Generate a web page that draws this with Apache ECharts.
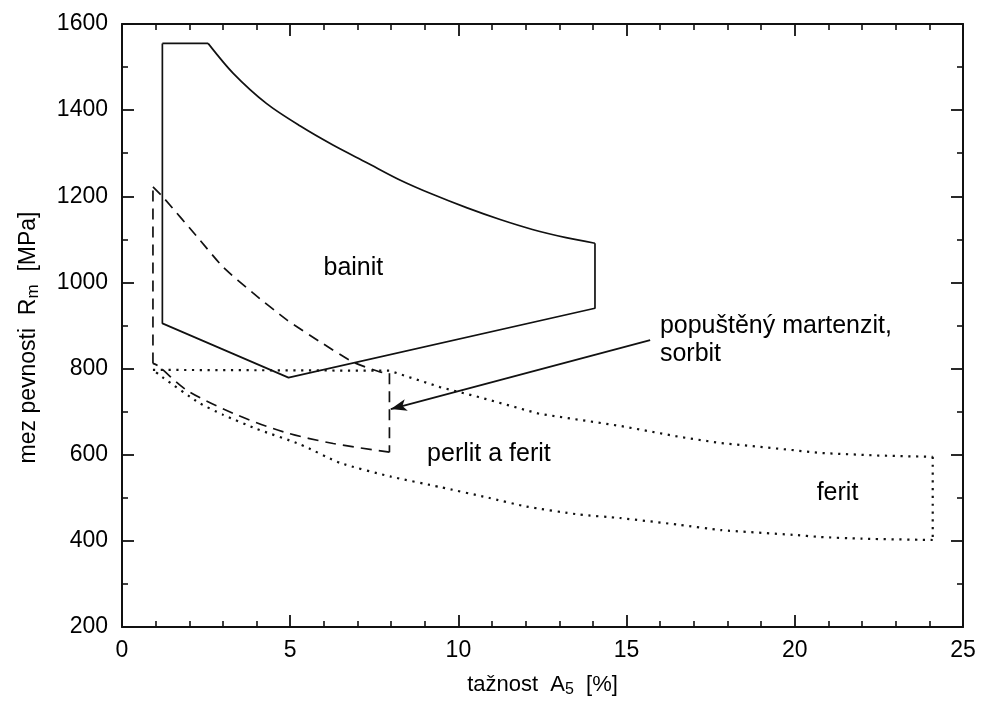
<!DOCTYPE html>
<html>
<head>
<meta charset="utf-8">
<script src="https://cdn.jsdelivr.net/npm/echarts@6/dist/echarts.min.js"></script>
<style>
  html, body { margin: 0; padding: 0; background: #fff; }
  #chart { width: 981px; height: 704px; }
</style>
</head>
<body>
<div id="chart"></div>
<script>
// Axis ranges and ticks
const xTicks = [0, 5, 10, 15, 20, 25];
const yTicks = [200, 400, 600, 800, 1000, 1200, 1400, 1600];

// Bainit field (solid outline): [A5 %, Rm MPa]
const bainitTop = [[1.2, 1555], [2.56, 1555]];
const bainitCurve = [[2.56, 1555], [3.3, 1486], [4.3, 1415], [5.3, 1363], [6.27, 1319], [7.28, 1278],
  [8.26, 1238], [9.25, 1204], [10.26, 1173], [11.24, 1146], [12.2, 1123], [13.2, 1104], [14.06, 1091]];
const bainitLower = [[14.06, 1091], [14.06, 940], [4.95, 779], [1.2, 905], [1.2, 1555]];

// Tempered martensite / sorbite field (dashed outline)
const martUpper = [[0.92, 1222], [1.22, 1198], [2.32, 1098], [3.0, 1036], [3.9, 975], [4.9, 913],
  [5.89, 862], [6.87, 815], [7.67, 792], [7.95, 789]];
const martRight = [[7.95, 789], [7.95, 606]];
const martLower = [[7.95, 606], [6.28, 626], [4.8, 653], [3.31, 696], [1.92, 750], [1.08, 806], [0.92, 812]];
const martLeft = [[0.92, 812], [0.92, 1222]];

// Pearlite + ferrite / ferrite field (dotted outline)
const ferUpper = [[0.92, 797], [7.95, 795], [9.45, 757], [10.6, 734], [12.4, 695], [13.6, 681],
  [14.8, 667], [16.6, 641], [17.8, 627], [19.9, 611], [20.75, 604], [22.5, 598], [24.1, 595]];
const ferRight = [[24.1, 595], [24.1, 402]];
const ferLower = [[24.1, 402], [22, 405], [20.75, 409], [19.95, 414], [17.8, 425], [16.6, 437],
  [14.8, 453], [13.6, 461], [12, 480], [10.9, 500], [9.45, 525], [8, 549], [6.48, 581], [5.3, 624],
  [4, 660], [3, 693], [2.3, 720], [1.2, 780], [0.92, 797]];

// Arrow pointing to the martensite field
const arrowFrom = [15.7, 866];
const arrowTo = [7.99, 706];

// Region labels: [text, A5, Rm]
const labels = [
  ['bainit', 5.99, 1033],
  ['popuštěný martenzit,', 15.99, 898],
  ['sorbit', 15.99, 833],
  ['perlit a ferit', 9.07, 602],
  ['ferit', 20.65, 510]
];

const FONT = '"Liberation Sans", Arial, Helvetica, sans-serif';
const INK = '#111';

function lineSeries(data, type, width, smooth) {
  return {
    type: 'line', data: data, showSymbol: false, symbol: 'none',
    smooth: smooth || false,
    silent: true, animation: false, xAxisIndex: 0, yAxisIndex: 0,
    lineStyle: { color: INK, width: width, type: type, cap: 'butt' }
  };
}

const DASH = [11, 7];
const DOT = [2.2, 5.6];

const series = [
  lineSeries(bainitTop, 'solid', 1.7),
  lineSeries(bainitCurve, 'solid', 1.7, 0.3),
  lineSeries(bainitLower, 'solid', 1.7),
  lineSeries(martUpper, DASH, 1.7, 0.2),
  lineSeries(martRight, DASH, 1.7),
  lineSeries(martLower, DASH, 1.7, 0.3),
  lineSeries(martLeft, DASH, 1.7),
  lineSeries(ferUpper, DOT, 2.2),
  lineSeries(ferRight, DOT, 2.2),
  lineSeries(ferLower, DOT, 2.2, 0.2),
  {
    type: 'scatter', data: labels.map(l => ({ value: [l[1], l[2]], name: l[0] })),
    symbolSize: 0, silent: true, animation: false,
    itemStyle: { color: '#000', opacity: 1 },
    label: {
      show: true, position: 'right', distance: 0, formatter: p => p.name,
      color: '#000', opacity: 1, fontFamily: FONT, fontSize: 25
    },
    markLine: {
      silent: true, animation: false,
      symbol: ['none', 'arrow'], symbolSize: [9, 16],
      lineStyle: { color: INK, width: 1.8, type: 'solid', opacity: 1 },
      label: { show: false },
      data: [[{ coord: arrowFrom }, { coord: arrowTo }]]
    }
  }
];

const tickLabelStyle = { color: '#000', fontFamily: FONT, fontSize: 23, formatter: v => String(v) };
const axisLine = { show: true, onZero: false, lineStyle: { color: INK, width: 2 } };
const axisTick = { show: true, inside: true, length: 12, lineStyle: { color: INK, width: 1.8 } };
const minorTick = { show: true, length: 6, lineStyle: { color: INK, width: 1.6 } };

const chart = echarts.init(document.getElementById('chart'), null, { renderer: 'canvas' });
chart.setOption({
  backgroundColor: '#ffffff',
  animation: false,
  grid: { left: 122, right: 18, top: 24, bottom: 77, containLabel: false },
  xAxis: [
    {
      type: 'value', min: xTicks[0], max: xTicks[xTicks.length - 1], interval: 5,
      position: 'bottom',
      axisLine: axisLine, axisTick: axisTick,
      minorTick: Object.assign({ splitNumber: 5 }, minorTick),
      splitLine: { show: false },
      axisLabel: Object.assign({ margin: 12 }, tickLabelStyle),
      name: 'tažnost  A{sub|5}  [%]', nameLocation: 'middle', nameGap: 45,
      nameTextStyle: {
        color: '#000', fontFamily: FONT, fontSize: 22,
        rich: { sub: { fontFamily: FONT, fontSize: 16, color: '#000', padding: [10, 0, 0, 0] } }
      }
    },
    {
      type: 'value', min: xTicks[0], max: xTicks[xTicks.length - 1], interval: 5,
      position: 'top',
      axisLine: axisLine, axisTick: axisTick,
      minorTick: Object.assign({ splitNumber: 5 }, minorTick),
      splitLine: { show: false }, axisLabel: { show: false }
    }
  ],
  yAxis: [
    {
      type: 'value', min: yTicks[0], max: yTicks[yTicks.length - 1], interval: 200,
      position: 'left',
      axisLine: axisLine, axisTick: axisTick,
      minorTick: Object.assign({ splitNumber: 2 }, minorTick),
      splitLine: { show: false },
      axisLabel: Object.assign({ margin: 14 }, tickLabelStyle),
      name: 'mez pevnosti  R{sub|m}  [MPa]', nameLocation: 'middle', nameGap: 80, nameRotate: 90,
      nameTextStyle: {
        color: '#000', fontFamily: FONT, fontSize: 23,
        padding: [0, 24, 0, 0],
        rich: { sub: { fontFamily: FONT, fontSize: 17, color: '#000', padding: [10, 0, 0, 0] } }
      }
    },
    {
      type: 'value', min: yTicks[0], max: yTicks[yTicks.length - 1], interval: 200,
      position: 'right',
      axisLine: axisLine, axisTick: axisTick,
      minorTick: Object.assign({ splitNumber: 2 }, minorTick),
      splitLine: { show: false }, axisLabel: { show: false }
    }
  ],
  series: series
});
</script>
</body>
</html>
